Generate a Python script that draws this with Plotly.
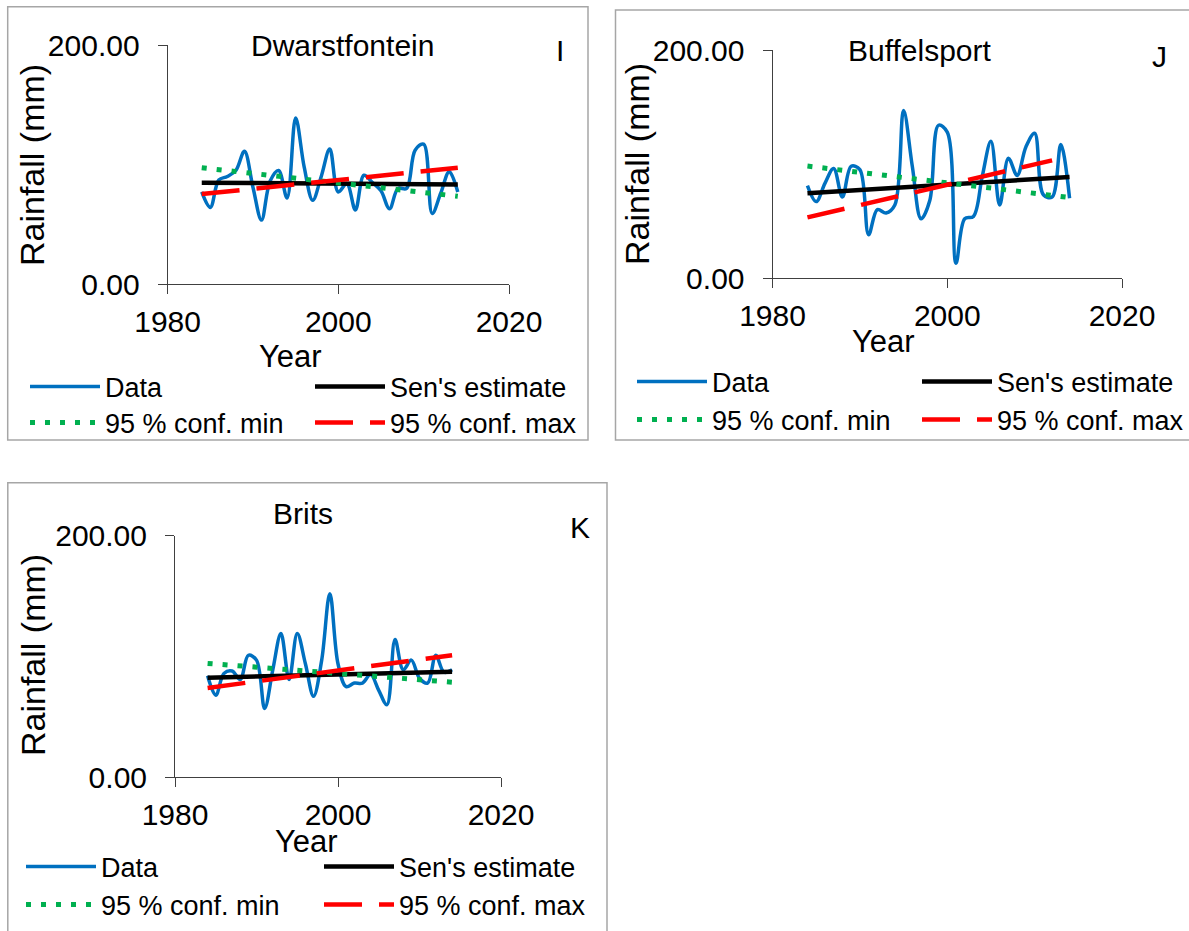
import plotly.graph_objects as go

W, H = 1189, 931

# Annual rainfall (mm) per station, 1984-2014
years = list(range(1984, 2015))
dwarstfontein = [77, 64, 87, 90, 95, 111, 81, 53.5, 86, 95, 72, 139, 98, 70, 90, 113,
                 77, 84, 62, 91, 85, 78, 63, 80, 80, 112, 117, 59, 76, 94, 77]
buffelsport = [81, 67, 83, 96, 71, 98, 95, 38, 60, 57, 64, 147, 98, 52, 68, 134,
               128, 13, 52, 54, 89, 120, 64, 105, 90, 115, 127, 73, 71, 117, 70]
brits = [84, 68, 86, 88, 81, 101, 97, 57, 89, 119, 81, 119, 94, 67, 97, 152,
         94, 75, 78, 78, 85, 72, 60, 114, 89, 97, 82, 78, 101, 87, 89]

# Sen's slope line and 95 % confidence bounds (first and last value)
trend_years = [1984, 2014]
sen_dwarstfontein = [84.8, 83.3]
min_dwarstfontein = [97.3, 73.4]
max_dwarstfontein = [75.3, 97.3]

sen_buffelsport = [74.3, 88.6]
min_buffelsport = [98.2, 70.6]
max_buffelsport = [53.2, 103.2]
max_years_buffelsport = [1984, 2012]

sen_brits = [82.5, 87.4]
min_brits = [94.3, 78.7]
max_brits = [74.0, 101.0]

x_ticks = [1980, 2000, 2020]
y_ticks = [0, 200]
series_names = ["Data", "Sen's estimate", "95 % conf. min", "95 % conf. max"]

FONT = "Arial, 'Liberation Sans', sans-serif"
BLUE, BLACK, GREEN, RED = "#0070C0", "#000000", "#00B050", "#FF0000"
AXIS = "#404040"
FS = 30
LEG_FS = 27


def fx(px):
    return px / W


def fy(py):
    return 1 - py / H


panels = [
    dict(name="Dwarstfontein", tag="I", rain=dwarstfontein,
         sen=sen_dwarstfontein, cmin=min_dwarstfontein, cmax=max_dwarstfontein,
         max_years=trend_years,
         plot=(167.6, 509, 45, 284), frame=(7.7, 6.7, 588, 440),
         title=(342, 46), tagpos=(560, 51), xlab=(290, 357), ylab=(32, 165),
         cols=(29, 314), rows=(387, 423)),
    dict(name="Buffelsport", tag="J", rain=buffelsport,
         sen=sen_buffelsport, cmin=min_buffelsport, cmax=max_buffelsport,
         max_years=max_years_buffelsport,
         plot=(772.5, 1122, 50, 278), frame=(615.5, 10, 1200, 440),
         title=(920, 50), tagpos=(1159, 57), xlab=(883, 341), ylab=(637, 164),
         cols=(636, 921), rows=(382, 420)),
    dict(name="Brits", tag="K", rain=brits,
         sen=sen_brits, cmin=min_brits, cmax=max_brits,
         max_years=trend_years,
         plot=(175, 501, 535.7, 777.3), frame=(7.8, 482.7, 607, 945),
         title=(303, 513), tagpos=(580, 527), xlab=(306, 841), ylab=(33, 655),
         cols=(25, 323), rows=(867, 905)),
]

fig = go.Figure()
layout = dict(template="none", width=W, height=H,
              margin=dict(l=0, r=0, t=0, b=0, autoexpand=False),
              paper_bgcolor="white", plot_bgcolor="white",
              font=dict(family=FONT, size=FS, color="black"),
              shapes=[], annotations=[], showlegend=True)

legend_no = 0
for i, p in enumerate(panels):
    n = "" if i == 0 else str(i + 1)
    xa, ya = "x" + n, "y" + n
    left, right, top, bottom = p["plot"]

    layout["xaxis" + n] = dict(
        domain=[fx(left), fx(right)], range=[1980, 2020], anchor=ya,
        tickvals=x_ticks, ticks="outside", ticklen=9, tickcolor=AXIS, tickwidth=1,
        showline=True, linecolor=AXIS, linewidth=1, showgrid=False,
        zeroline=False, tickfont=dict(size=FS, color="black"), ticklabelstandoff=2,
        automargin=False, fixedrange=True)
    layout["yaxis" + n] = dict(
        domain=[fy(bottom), fy(top)], range=[0, 200], anchor=xa,
        tickvals=y_ticks, tickformat=".2f", ticks="outside", ticklen=9,
        tickcolor=AXIS, tickwidth=1, showline=True, linecolor=AXIS, linewidth=1,
        showgrid=False, zeroline=False, tickfont=dict(size=FS, color="black"),
        ticklabelstandoff=12, automargin=False, fixedrange=True)

    traces = [
        dict(x=years, y=p["rain"], line=dict(color=BLUE, width=3.5, shape="spline", smoothing=1.0)),
        dict(x=trend_years, y=p["sen"], line=dict(color=BLACK, width=4.5)),
        dict(x=trend_years, y=p["cmin"], line=dict(color=GREEN, width=5, dash="5px,10px")),
        dict(x=p["max_years"], y=p["cmax"], line=dict(color=RED, width=4.5, dash="38px,17px")),
    ]
    for k, t in enumerate(traces):
        legend_no += 1
        lid = "legend" if legend_no == 1 else "legend%d" % legend_no
        fig.add_trace(go.Scatter(x=t["x"], y=t["y"], mode="lines", line=t["line"],
                                 name=series_names[k], xaxis=xa, yaxis=ya,
                                 legend=lid, hoverinfo="skip"))
        col = p["cols"][k % 2]
        row = p["rows"][k // 2]
        layout[lid] = dict(x=fx(col - 4), y=fy(row), xanchor="left", yanchor="middle",
                           orientation="h", itemwidth=70, bgcolor="rgba(0,0,0,0)",
                           borderwidth=0, font=dict(size=LEG_FS, family=FONT, color="black"),
                           itemclick=False, itemdoubleclick=False)

    fl, ft, fr, fb = p["frame"]
    layout["shapes"].append(dict(type="rect", xref="paper", yref="paper",
                                 x0=fx(fl), x1=fx(fr), y0=fy(fb), y1=fy(ft),
                                 line=dict(color="#A6A6A6", width=1.5), layer="below"))

    def note(text, pos, size=FS, angle=0):
        layout["annotations"].append(dict(
            text=text, x=fx(pos[0]), y=fy(pos[1]), xref="paper", yref="paper",
            xanchor="center", yanchor="middle", showarrow=False, textangle=angle,
            font=dict(size=size, family=FONT, color="black")))

    note(p["name"], p["title"])
    note(p["tag"], p["tagpos"])
    note("Year", p["xlab"], size=31)
    note("Rainfall (mm)", p["ylab"], size=34, angle=-90)

fig.update_layout(**layout)
fig.write_html("out.html")
